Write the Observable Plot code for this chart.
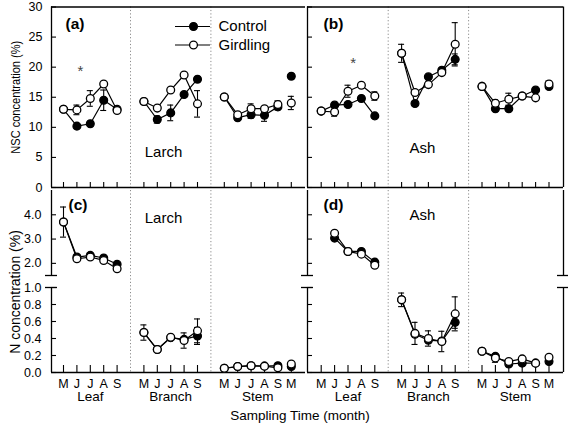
<!DOCTYPE html>
<html><head><meta charset="utf-8">
<script src="https://cdn.jsdelivr.net/npm/d3@7"></script>
<script src="https://cdn.jsdelivr.net/npm/@observablehq/plot@0.6"></script>
<style>
body{margin:0;background:#fff;}
#fig{position:relative;width:568px;height:424px;overflow:hidden;background:#fff;font-family:"Liberation Sans",Arial,sans-serif;}
#xtitle{position:absolute;left:0;width:600px;top:408px;text-align:center;font-size:13.5px;line-height:16px;color:#000;}
</style></head><body><div id="fig"><div id="xtitle">Sampling Time (month)</div></div>
<script>
// ---------- data ----------
const months = ["M","J","J","A","S"];
const stemMonths = ["M","J","J","A","S","M"];
const tissues = ["Leaf","Branch","Stem"];
const seriesNames = ["Control","Girdling"];

// order: Leaf M J J A S | Branch M J J A S | Stem M J J A S M
const nscLarchControl     = [13.0,10.2,10.6,14.5,13.0, 14.3,11.3,12.4,15.45,18.0, 15.05,11.6,12.1,12.0,13.4,18.5];
const nscLarchControlErr  = [0,0,0,1.7,0, 0,0.6,1.3,0,0, 0,0,0.6,1.0,0.5,0];
const nscLarchGirdling    = [13.0,12.9,14.8,17.2,12.8, 14.3,13.2,16.2,18.7,13.9, 15.05,12.1,13.1,13.1,13.8,14.05];
const nscLarchGirdlingErr = [0,0.8,1.3,0,0, 0,0,0,0,2.2, 0,0,0.8,0,0.6,1.1];

const nscAshControl     = [12.7,13.7,13.8,14.8,11.9, 22.3,13.95,18.4,19.5,21.3, 16.8,13.1,13.1,15.2,16.2,16.8];
const nscAshControlErr  = [0,0,0,0,0, 0,0,0,0,0.9, 0,0,0,0,0,0];
const nscAshGirdling    = [12.7,12.55,16.0,17.0,15.2, 22.3,15.8,17.1,19.1,23.8, 16.8,14.0,14.67,15.2,14.9,17.2];
const nscAshGirdlingErr = [0,0.7,1.0,0,0.7, 1.5,0,0,0,3.6, 0,0.6,1.0,0,0,0.5];

const nLarchControl     = [3.70,2.26,2.33,2.22,1.96, 0.47,0.27,0.41,0.39,0.43, 0.05,0.07,0.08,0.075,0.08,0.07];
const nLarchControlErr  = [0,0,0.1,0,0.08, 0,0,0,0,0.1, 0,0,0,0,0,0];
const nLarchGirdling    = [3.70,2.19,2.26,2.12,1.78, 0.47,0.27,0.415,0.376,0.49, 0.05,0.07,0.08,0.075,0.055,0.10];
const nLarchGirdlingErr = [0.62,0,0.1,0,0, 0.09,0,0,0.09,0.14, 0,0,0,0,0,0];

const nAshControl     = [null,3.04,2.49,2.49,2.05, 0.855,0.45,0.38,0.37,0.59, 0.25,0.19,0.10,0.11,0.11,0.13];
const nAshControlErr  = [0,0,0,0,0.12, 0,0,0,0,0.07, 0,0,0,0,0,0];
const nAshGirdling    = [null,3.24,2.49,2.38,1.92, 0.855,0.46,0.40,0.365,0.69, 0.25,0.17,0.13,0.16,0.11,0.18];
const nAshGirdlingErr = [0,0,0,0,0, 0.08,0.13,0.09,0.12,0.2, 0,0.05,0,0,0,0];

const nscTicks = [0,5,10,15,20,25,30];
const nTicks = [0,0.2,0.4,0.6,0.8,1.0,2,3,4];
const nTickLabels = ["0.0","0.2","0.4","0.6","0.8","1.0","2.0","3.0","4.0"];

// ---------- layout ----------
const STEP = 13.4;
const FONT = "Liberation Sans, Arial, sans-serif";
const L = {
  a:{svgLeft:0,  svgTop:0,   w:305, h:188, frameL:51,  frameR:305, x0:63},
  b:{svgLeft:305,svgTop:0,   w:263, h:188, frameL:307, frameR:563, x0:320.7},
  c:{svgLeft:0,  svgTop:188, w:305, h:236, frameL:51,  frameR:305, x0:63},
  d:{svgLeft:305,svgTop:188, w:263, h:236, frameL:307, frameR:563, x0:320.7}
};
const TOP_Y = {y0px:187, y30px:6.5};
const topYScale = {domain:[0,30], range:[TOP_Y.y0px, TOP_Y.y30px]};
const botYScale = {domain:[0,1,1.5,5], range:[372-188, 287-188, 275-188, 190-188]};
const topUnitsPerPx = 30/(TOP_Y.y0px-TOP_Y.y30px);
const botUnitsPerPx = 1/85;

function buildRows(vals, errs, name){
  return vals.map((v,i)=>{
    const g = i<5?0:(i<10?1:2), m = i-5*g;
    return {x:g*6+m, value:v, err:errs[i], series:name, seg:name+g+(m>4?"b":"")};
  }).filter(d=>d.value!=null);
}
const tickRows = [];
tissues.forEach((t,g)=>{ (g===2?stemMonths:months).forEach((m,k)=>tickRows.push({x:g*6+k, label:m})); });
const groupCenters = [2, 8, 14.5];

function makePanel(P, cfg){
  const xmin=(P.frameL-P.x0)/STEP, xmax=(P.frameR-P.x0)/STEP;
  const tickW=5/STEP, capW=3/STEP, breakW=6/STEP;
  const ctrl=buildRows(cfg.ctrl,cfg.ctrlErr,"Control");
  const gird=buildRows(cfg.gird,cfg.girdErr,"Girdling");
  const all=ctrl.concat(gird);
  const withErr=all.filter(d=>d.err>0);
  const marks=[];
  marks.push(Plot.ruleX([5,11],{x:d=>d, stroke:"#8c8c8c", strokeWidth:1, strokeDasharray:"1.2,2.2"}));
  // axes / frame
  marks.push(Plot.ruleY([0],{stroke:"#000", strokeWidth:1.3}));
  if(cfg.broken){
    marks.push(Plot.ruleX([xmin],{y1:0,y2:1,stroke:"#000",strokeWidth:1.3}));
    marks.push(Plot.ruleX([xmin],{y1:1.5,y2:5,stroke:"#000",strokeWidth:1.3}));
    marks.push(Plot.ruleY([1,1.5],{y:d=>d,x1:xmin-breakW,x2:xmin+breakW,stroke:"#000",strokeWidth:1.3}));
    if(cfg.right){
      marks.push(Plot.ruleX([xmax],{y1:0,y2:1,stroke:"#000",strokeWidth:1.3}));
      marks.push(Plot.ruleX([xmax],{y1:1.5,y2:5,stroke:"#000",strokeWidth:1.3}));
      marks.push(Plot.ruleY([1,1.5],{y:d=>d,x1:xmax-breakW,x2:xmax+breakW,stroke:"#000",strokeWidth:1.3}));
    }
  } else {
    marks.push(Plot.ruleY([30],{stroke:"#000",strokeWidth:1.3}));
    marks.push(Plot.ruleX([xmin],{stroke:"#000",strokeWidth:1.3}));
    if(cfg.right) marks.push(Plot.ruleX([xmax],{stroke:"#000",strokeWidth:1.3}));
  }
  // ticks
  marks.push(Plot.ruleX(tickRows,{x:"x",y1:0,y2:cfg.xTickLen,stroke:"#000",strokeWidth:1.1}));
  marks.push(Plot.ruleY(cfg.yTicks,{y:d=>d,x1:xmin,x2:xmin+tickW,stroke:"#000",strokeWidth:1.1}));
  if(cfg.yLabels){
    marks.push(Plot.text(cfg.yTicks,{x:xmin,y:d=>d,text:(d,i)=>cfg.yLabels[i],textAnchor:"end",dx:cfg.labelDx,fontSize:12.5}));
  }
  if(cfg.monthLabels){
    marks.push(Plot.text(tickRows,{x:"x",y:0,text:"label",dy:11,fontSize:12.5}));
    marks.push(Plot.text(tissues,{x:(d,i)=>groupCenters[i],y:0,text:d=>d,dy:24.5,fontSize:13.5}));
  }
  if(cfg.ytitle){
    marks.push(Plot.text([cfg.ytitle],{frameAnchor:"left",text:d=>d,rotate:-90,dx:-36,dy:cfg.ytitleDy,fontSize:cfg.ytitleSize,textAnchor:"middle",lineAnchor:"middle"}));
  }
  // panel letter
  marks.push(Plot.text([cfg.letter],{frameAnchor:"top-left",text:d=>d,dx:cfg.letterDx,dy:cfg.letterDy,textAnchor:"start",lineAnchor:"middle",fontWeight:"bold",fontSize:15.5}));
  // species label
  marks.push(Plot.text([cfg.species],{x:cfg.speciesX,y:cfg.speciesY,text:d=>d,fontSize:15}));
  if(cfg.star){
    marks.push(Plot.text([cfg.star],{x:d=>d[0],y:d=>d[1],text:()=>"*",fontSize:15,fill:"#444"}));
  }
  if(cfg.legend){
    const lg=cfg.legend;
    marks.push(Plot.ruleY(seriesNames,{y:(d,i)=>lg.ys[i],x1:lg.x1,x2:lg.x2,stroke:"#000",strokeWidth:1.2}));
    marks.push(Plot.dot(seriesNames,{x:lg.xm,y:(d,i)=>lg.ys[i],r:3.9,stroke:"#000",strokeWidth:1.3,fill:(d,i)=>i===0?"#000":"#fff"}));
    marks.push(Plot.text(seriesNames,{x:lg.xt,y:(d,i)=>lg.ys[i],text:d=>d,textAnchor:"start",fontSize:15}));
  }
  // data
  marks.push(Plot.line(all,{x:"x",y:"value",z:"seg",stroke:"#000",strokeWidth:1.2}));
  marks.push(Plot.ruleX(withErr,{x:"x",y1:d=>d.value-d.err,y2:d=>d.value+d.err,stroke:"#000",strokeWidth:1.1}));
  marks.push(Plot.ruleY(withErr,{y:d=>d.value+d.err,x1:d=>d.x-capW,x2:d=>d.x+capW,stroke:"#000",strokeWidth:1.1}));
  marks.push(Plot.ruleY(withErr,{y:d=>d.value-d.err,x1:d=>d.x-capW,x2:d=>d.x+capW,stroke:"#000",strokeWidth:1.1}));
  marks.push(Plot.dot(ctrl,{x:"x",y:"value",r:3.9,fill:"#000",stroke:"#000",strokeWidth:1.3}));
  marks.push(Plot.dot(gird,{x:"x",y:"value",r:3.9,fill:"#fff",stroke:"#000",strokeWidth:1.3}));

  const svg = Plot.plot({
    width:P.w, height:P.h,
    marginLeft:P.frameL-P.svgLeft, marginRight:P.svgLeft+P.w-P.frameR,
    marginTop:cfg.marginTop, marginBottom:cfg.marginBottom,
    x:{type:"linear",domain:[xmin,xmax],axis:null},
    y:{type:"linear",...cfg.yscale,axis:null},
    style:{fontFamily:FONT,fontSize:"12.5px",background:"transparent",overflow:"visible",color:"#000"},
    marks
  });
  svg.style.position="absolute";
  svg.style.left=P.svgLeft+"px";
  svg.style.top=P.svgTop+"px";
  document.getElementById("fig").appendChild(svg);
  if(cfg.ytitleLen){
    // the original's NSC title is horizontally condensed: squeeze along the text direction
    d3.select(svg).selectAll("text").filter(function(){return this.textContent===cfg.ytitle;})
      .each(function(){
        const len=this.getComputedTextLength();
        if(len>0){
          const t=this.getAttribute("transform")||"";
          this.setAttribute("transform", t+" scale("+(cfg.ytitleLen/len)+",1)");
        }
      });
  }
}

const xi = (px,P)=>(px-P.x0)/STEP;
const yTop = px=>(TOP_Y.y0px-px)*topUnitsPerPx;

const topCommon = {yscale:topYScale, broken:false, yTicks:nscTicks, xTickLen:5*topUnitsPerPx,
  marginTop:TOP_Y.y30px, marginBottom:188-TOP_Y.y0px, letterDy:17.5};
const botCommon = {yscale:botYScale, broken:true, yTicks:nTicks, xTickLen:7*botUnitsPerPx,
  marginTop:2, marginBottom:52, monthLabels:true, letterDy:15};

makePanel(L.a,{...topCommon, ctrl:nscLarchControl, ctrlErr:nscLarchControlErr, gird:nscLarchGirdling, girdErr:nscLarchGirdlingErr,
  yLabels:nscTicks.map(String), labelDx:-9, ytitle:"NSC concentration (%)", ytitleDy:0, ytitleSize:13.5, ytitleLen:113,
  letter:"(a)", letterDx:14, species:"Larch", speciesX:xi(163,L.a), speciesY:yTop(152),
  star:[xi(80,L.a), yTop(70.6)],
  legend:{x1:xi(175,L.a), x2:xi(210,L.a), xm:xi(193,L.a), xt:xi(218,L.a), ys:[yTop(26), yTop(44.5)]}});
makePanel(L.b,{...topCommon, right:true, ctrl:nscAshControl, ctrlErr:nscAshControlErr, gird:nscAshGirdling, girdErr:nscAshGirdlingErr,
  letter:"(b)", letterDx:16, species:"Ash", speciesX:xi(422,L.b), speciesY:yTop(148),
  star:[xi(352.7,L.b), yTop(62.9)]});
makePanel(L.c,{...botCommon, ctrl:nLarchControl, ctrlErr:nLarchControlErr, gird:nLarchGirdling, girdErr:nLarchGirdlingErr,
  yLabels:nTickLabels, labelDx:-10, ytitle:"N concentration (%)", ytitleDy:10.5, ytitleSize:14,
  letter:"(c)", letterDx:17, species:"Larch", speciesX:xi(163,L.c), speciesY:3.85});
makePanel(L.d,{...botCommon, right:true, ctrl:nAshControl, ctrlErr:nAshControlErr, gird:nAshGirdling, girdErr:nAshGirdlingErr,
  letter:"(d)", letterDx:16, species:"Ash", speciesX:xi(422,L.d), speciesY:4.0});
</script></body></html>
